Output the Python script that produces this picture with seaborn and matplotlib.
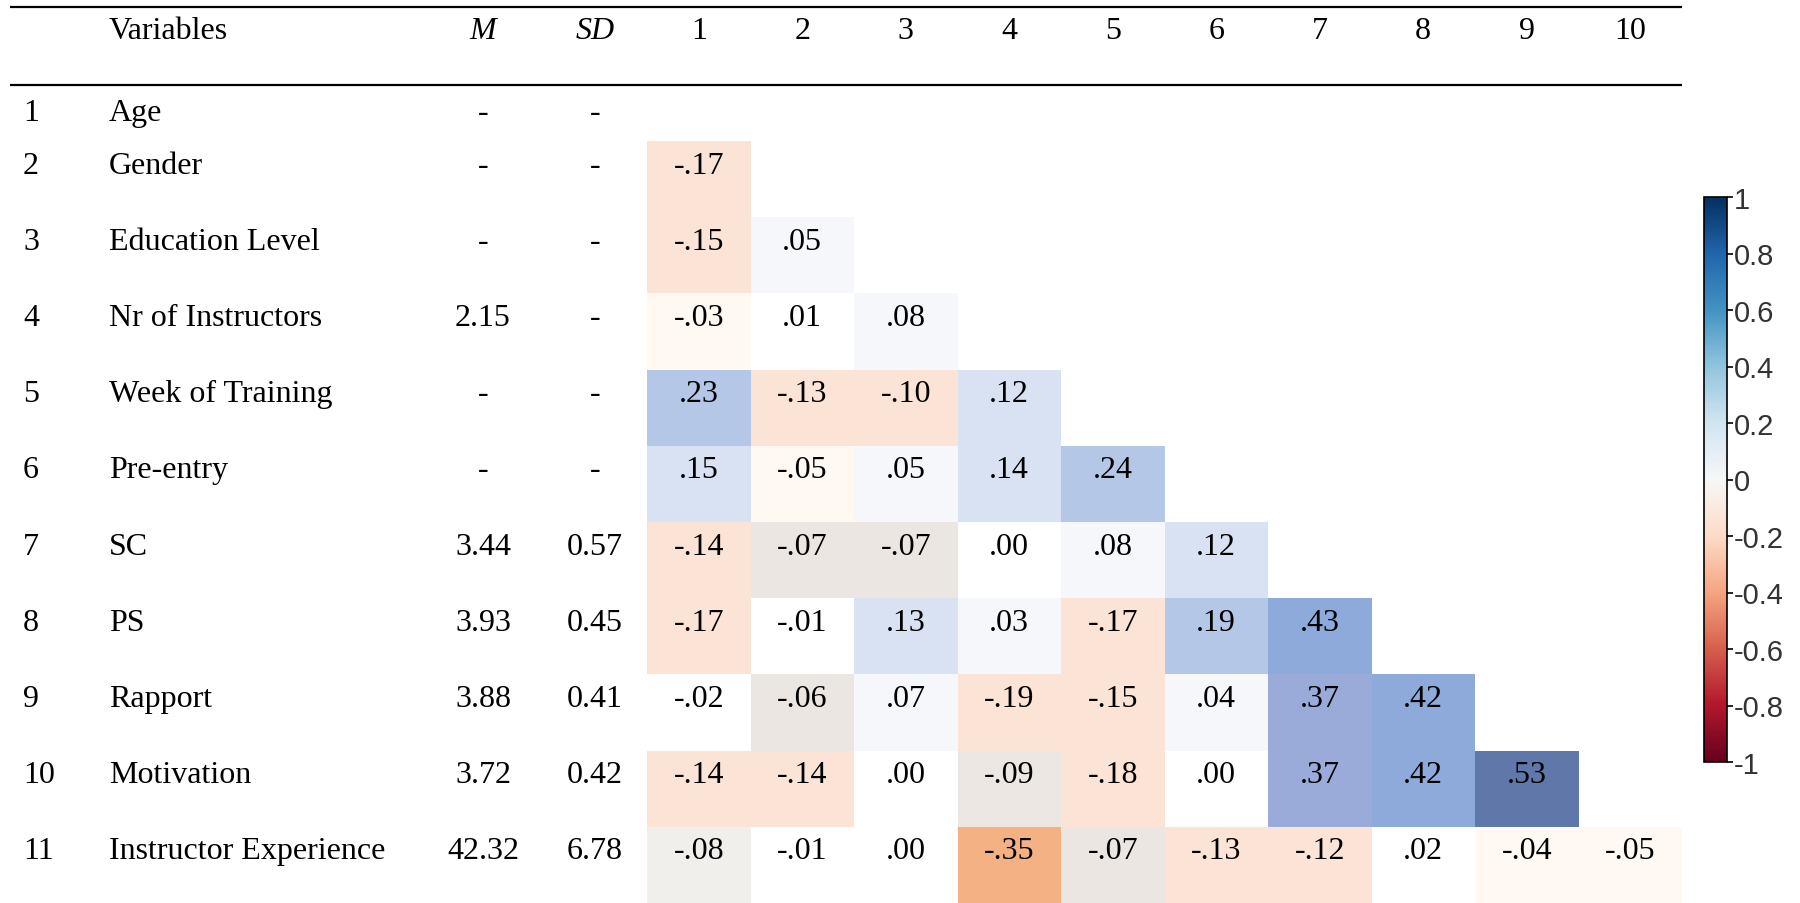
"""Correlation table with heatmap-coloured cells."""

import numpy as np
import pandas as pd
import matplotlib
matplotlib.use("Agg")
import matplotlib.pyplot as plt
from matplotlib.colors import ListedColormap, BoundaryNorm, Normalize
from matplotlib.cm import ScalarMappable
import seaborn as sns

# Data
variables = [
  "Age", "Gender", "Education Level", "Nr of Instructors", "Week of Training",
  "Pre-entry", "SC", "PS", "Rapport", "Motivation", "Instructor Experience",
]
means = ["-", "-", "-", "2.15", "-", "-", "3.44", "3.93", "3.88", "3.72", "42.32"]
sds = ["-", "-", "-", "-", "-", "-", "0.57", "0.45", "0.41", "0.42", "6.78"]

# lower triangle, rows 2..11, columns 1..(row-1)
corr_rows = [
  [-.17],
  [-.15, .05],
  [-.03, .01, .08],
  [.23, -.13, -.10, .12],
  [.15, -.05, .05, .14, .24],
  [-.14, -.07, -.07, .00, .08, .12],
  [-.17, -.01, .13, .03, -.17, .19, .43],
  [-.02, -.06, .07, -.19, -.15, .04, .37, .42],
  [-.14, -.14, .00, -.09, -.18, .00, .37, .42, .53],
  [-.08, -.01, .00, -.35, -.07, -.13, -.12, .02, -.04, -.05],
]

# Cell shading bins (as in the source table)
bin_edges = [-1, -0.3, -0.095, -0.085, -0.075, -0.055, -0.025, 0.025,
             0.095, 0.165, 0.3, 0.4, 0.5, 1]
bin_colors = [
  "#f4b183", "#fbe3d6", "#ece7e3", "#f0efec", "#ece6e2", "#fff9f2", "#ffffff",
  "#f5f7fb", "#d9e2f2", "#b4c7e7", "#9aabda", "#8eaadb", "#5f77a9",
]


def fmt_r(value: float) -> str:
  """APA style correlation without leading zero."""
  text = f"{value:.2f}"
  return text.replace("0.", ".", 1)


n = len(corr_rows)
matrix = np.full((n, n), np.nan)
for i, row in enumerate(corr_rows):
  matrix[i, :len(row)] = row
col_ids = [str(k) for k in range(1, n + 1)]
corr = pd.DataFrame(matrix, index=variables[1:], columns=col_ids)
mask = corr.isna()
annot = corr.map(lambda v: "" if np.isnan(v) else fmt_r(v))

W, H = 1800, 904
fig = plt.figure(figsize=(W / 100, H / 100), dpi=100)

serif = ["Liberation Serif", "DejaVu Serif"]
fs = 23

# Overlay axes in pixel coordinates for the table text and rules
ov = fig.add_axes([0, 0, 1, 1])
ov.set_xlim(0, W)
ov.set_ylim(H, 0)
ov.axis("off")

# Heatmap block geometry (pixels)
hx0, hx1 = 647, 1682
hy0, hy1 = 142, 904
cell_w = (hx1 - hx0) / n
cell_h = (hy1 - hy0) / n

ax = fig.add_axes([hx0 / W, 1 - hy1 / H, (hx1 - hx0) / W, (hy1 - hy0) / H])
sns.heatmap(
  corr,
  mask=mask,
  cmap=ListedColormap(bin_colors),
  norm=BoundaryNorm(bin_edges, len(bin_colors)),
  annot=annot,
  fmt="",
  annot_kws={"color": "black", "fontsize": fs, "family": serif},
  cbar=False,
  xticklabels=False,
  yticklabels=False,
  ax=ax,
)
ax.set_xlabel("")
ax.set_ylabel("")
# numbers sit near the top of each cell
for t in ax.texts:
  x, y = t.get_position()
  t.set_position((x, y - 0.185))

# Rules
ov.plot([10, hx1], [7.5, 7.5], color="black", lw=1.6, solid_capstyle="butt")
ov.plot([10, hx1], [86, 86], color="black", lw=1.6, solid_capstyle="butt")

# Header
m_x, sd_x = 483, 595
head_y = 31.5
ov.text(109, head_y, "Variables", ha="left", va="center", fontsize=fs, family=serif)
ov.text(m_x, head_y, "M", ha="center", va="center", fontsize=fs, family=serif, style="italic")
ov.text(sd_x, head_y, "SD", ha="center", va="center", fontsize=fs, family=serif, style="italic")
for k, cid in enumerate(col_ids):
  ov.text(hx0 + (k + 0.5) * cell_w, head_y, cid, ha="center", va="center",
          fontsize=fs, family=serif)

# Row labels, means and SDs
for i, name in enumerate(variables):
  y = 113.5 if i == 0 else hy0 + (i - 1 + 0.315) * cell_h
  ov.text(23, y, str(i + 1), ha="left", va="center", fontsize=fs, family=serif)
  ov.text(109, y, name, ha="left", va="center", fontsize=fs, family=serif)
  ov.text(m_x, y, means[i], ha="center", va="center", fontsize=fs, family=serif)
  ov.text(sd_x, y, sds[i], ha="center", va="center", fontsize=fs, family=serif)

# Colour bar
cax = fig.add_axes([1704 / W, 1 - 763 / H, 23 / W, (763 - 198) / H])
cb = fig.colorbar(ScalarMappable(norm=Normalize(-1, 1), cmap="RdBu"), cax=cax)
ticks = np.round(np.arange(-1, 1.01, 0.2), 1)
cb.set_ticks(ticks)
cb.set_ticklabels([f"{v:g}" if v != 0 else "0" for v in ticks])
cb.outline.set_linewidth(1.2)
cax.tick_params(length=4, width=1.2, pad=1, labelsize=21, labelcolor="#333333")
for lbl in cax.get_yticklabels():
  lbl.set_family(["Liberation Sans", "DejaVu Sans"])

fig.savefig("out.png", dpi=100)
